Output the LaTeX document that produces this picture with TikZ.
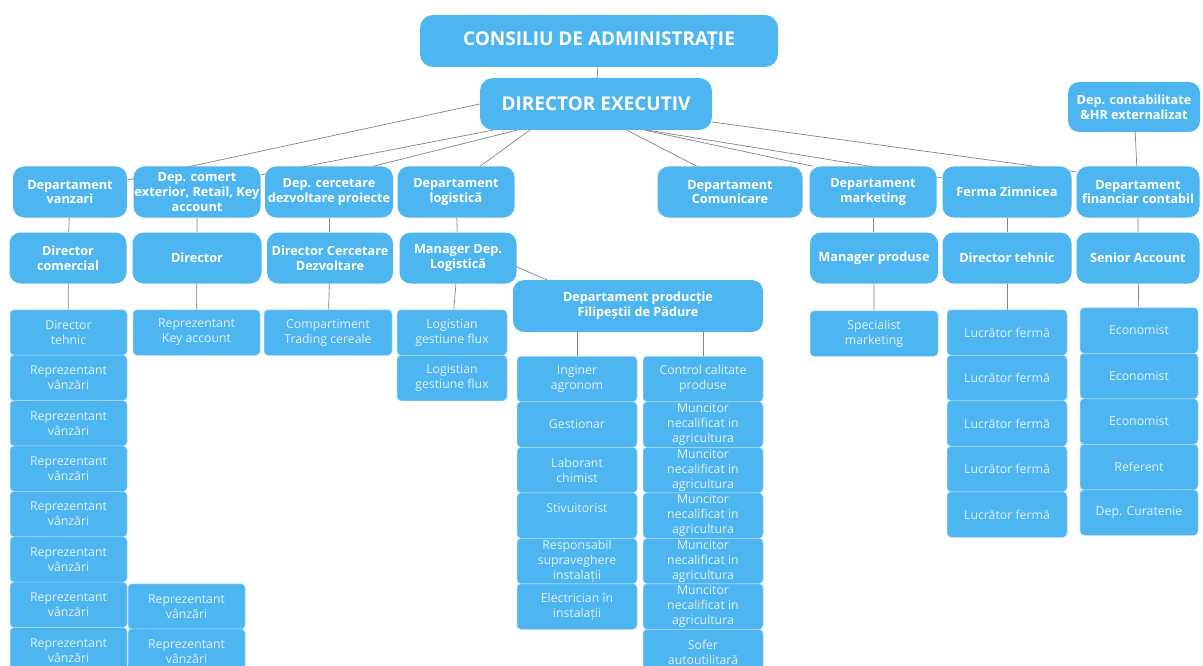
\documentclass[tikz,border=0pt]{standalone}
\usepackage{fontspec}
\setmainfont{Open Sans}
\usepackage{tikz}
\usetikzlibrary{shapes,backgrounds}
\definecolor{boxblue}{RGB}{77,181,240}
\definecolor{linegray}{RGB}{130,130,130}
\definecolor{softwhite}{RGB}{226,241,251}
\tikzstyle{head} = [fill=boxblue,rounded corners=13pt,text=white,font=\fontsize{19}{22}\selectfont\bfseries,inner sep=0pt,minimum height=52pt]
\tikzstyle{dept} = [fill=boxblue,rounded corners=11pt,text=white,font=\fontsize{12.7}{14.8}\selectfont\bfseries,align=center,inner sep=0pt,minimum height=51pt]
\tikzstyle{staff} = [fill=boxblue,draw=white!55!boxblue,line width=0.5pt,rounded corners=4pt,text=softwhite,font=\fontsize{12.3}{15}\selectfont,align=center,inner sep=0pt,minimum height=45.5pt]
\tikzstyle{link} = [draw=linegray,line width=0.7pt]

\begin{document}
\begin{tikzpicture}[x=1pt,y=-1pt]
  \useasboundingbox (0,0) rectangle (1203,666);
  \node[head,minimum width=358pt] (cons) at (599,41) {CONSILIU DE ADMINISTRAȚIE};
  \node[head,minimum width=232pt] (de) at (596,104) {DIRECTOR EXECUTIV};
  \node[dept,minimum width=132pt,minimum height=50pt] (hr) at (1134,107) {Dep. contabilitate\\\&HR externalizat};

  \node[dept,minimum width=114pt] (vanz) at (70,192) {Departament\\vanzari};
  \node[dept,minimum width=127pt] (com) at (197,192) {Dep. comert\\exterior, Retail, Key\\account};
  \node[dept,minimum width=128pt] (cerc) at (329,192) {Dep. cercetare\\dezvoltare proiecte};
  \node[dept,minimum width=117pt] (logi) at (456,192) {Departament\\logistică};
  \node[dept,minimum width=145pt] (comu) at (730,192) {Departament\\Comunicare};
  \node[dept,minimum width=127pt] (mark) at (873,192) {Departament\\marketing};
  \node[dept,minimum width=129pt] (ferma) at (1007,192) {Ferma Zimnicea};
  \node[dept,minimum width=123pt] (fin) at (1138,192) {Departament\\financiar contabil};

  \node[dept,minimum width=117pt] (dircom) at (68,258) {Director\\comercial};
  \node[dept,minimum width=129pt] (dir) at (197,258) {Director};
  \node[dept,minimum width=126pt] (dcd) at (330,258) {Director Cercetare\\Dezvoltare};
  \node[dept,minimum width=117pt] (mgr) at (458,258) {Manager Dep.\\Logistică};
  \node[dept,minimum width=128pt] (mprod) at (874,258) {Manager produse};
  \node[dept,minimum width=129pt] (dteh) at (1007,258) {Director tehnic};
  \node[dept,minimum width=123pt] (sacc) at (1138,258) {Senior Account};
  \node[dept,minimum width=250pt,minimum height=52pt] (prod) at (638,306) {Departament producție\\Filipeștii de Pădure};

  \node[staff,minimum width=117pt] (dt) at (68.5,332.5) {Director\\tehnic};
  \foreach \i in {1,...,7}
    \node[staff,minimum width=117pt] (rv\i) at (68.5,{332.5+45.4*\i}) {Reprezentant\\vânzări};
  \node[staff,minimum width=127pt] (rka) at (196.5,332.5) {Reprezentant\\Key account};
  \node[staff,minimum width=117pt] (rvb1) at (186.5,606.5) {Reprezentant\\vânzări};
  \node[staff,minimum width=117pt] (rvb2) at (186.5,651.5) {Reprezentant\\vânzări};
  \node[staff,minimum width=128pt] (comp) at (328,332.5) {Compartiment\\Trading cereale};
  \node[staff,minimum width=110pt] (lg1) at (452,332.5) {Logistian\\gestiune flux};
  \node[staff,minimum width=110pt] (lg2) at (452,378) {Logistian\\gestiune flux};

  \foreach \t [count=\i] in {{Inginer\\agronom},{Gestionar},{Laborant\\chimist},{Stivuitorist\\~},{Responsabil\\supraveghere\\instalații},{Electrician în\\instalații}}
    \node[staff,minimum width=120pt] (pl\i) at (577,{379+45.5*(\i-1)}) {\t};
  \node[staff,minimum width=120pt] (pr0) at (703,379) {Control calitate\\produse};
  \foreach \i in {1,...,5}
    \node[staff,minimum width=120pt] (pr\i) at (703,{379+45.5*\i}) {Muncitor\\necalificat in\\agricultura};
  \node[staff,minimum width=120pt] (pr6) at (703,652) {Sofer\\autoutilitară};

  \node[staff,minimum width=128pt] (spec) at (874,333.5) {Specialist\\marketing};
  \foreach \i in {1,...,5}
    \node[staff,minimum width=120pt] (lf\i) at (1007,{332.5+45.5*(\i-1)}) {Lucrător fermă};
  \foreach \t [count=\i] in {Economist,Economist,Economist,Referent,Dep. Curatenie}
    \node[staff,minimum width=118pt] (ec\i) at (1139,{330.5+45.5*(\i-1)}) {\t};

  \begin{scope}[on background layer]
    \draw[link] (cons) -- (de);
    \draw[link] (hr) -- (fin);
    \draw[link] (de.west) -- ([yshift=12pt]vanz.east);
    \draw[link] ([xshift=13pt]de.south west) -- ([yshift=17pt]com.east);
    \draw[link] ([xshift=37pt]de.south west) -- ([xshift=44pt]cerc.north);
    \draw[link] ([xshift=50pt]de.south west) -- ([xshift=24pt]logi.north);
    \draw[link] ([xshift=31pt]de.south) -- ([xshift=-33pt]comu.north);
    \draw[link] ([xshift=49pt]de.south) -- ([xshift=-60pt]mark.north);
    \draw[link] ([xshift=52pt]de.south) -- ([yshift=14pt]ferma.west);
    \draw[link] ([yshift=-18pt]de.east) -- ([yshift=20pt]fin.west);
    \draw[link] (vanz) -- (dircom) -- (dt);
    \draw[link] (com) -- (dir) -- (rka);
    \draw[link] (cerc) -- (dcd) -- (comp);
    \draw[link] (logi) -- (mgr) -- (lg1);
    \draw[link] ([yshift=-9pt]mgr.east) -- ([xshift=-91pt]prod.north);
    \draw[link] (pl1 |- prod.south) -- (pl1);
    \draw[link] (pr0 |- prod.south) -- (pr0);
    \draw[link] (mark) -- (mprod) -- (spec);
    \draw[link] (ferma) -- (dteh) -- (lf1);
    \draw[link] (fin) -- (sacc) -- (ec1);
  \end{scope}
\end{tikzpicture}
\end{document}
